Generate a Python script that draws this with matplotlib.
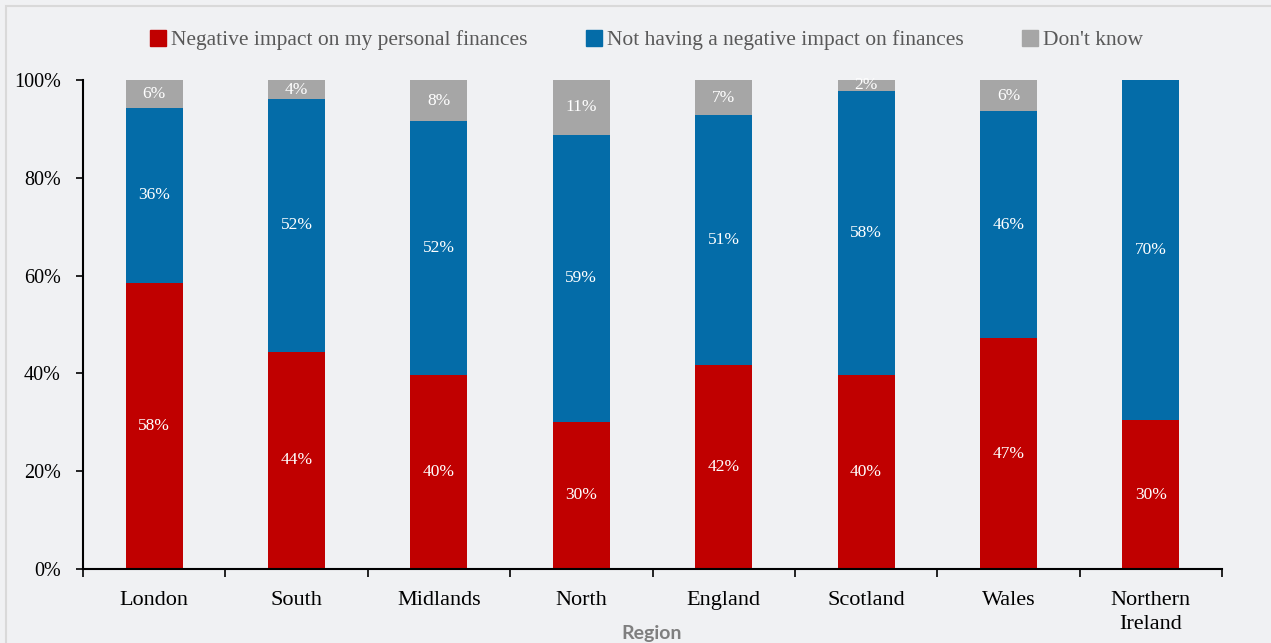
import numpy as np
import matplotlib.pyplot as plt
from matplotlib.patches import Rectangle
from matplotlib.lines import Line2D

regions = ["London", "South", "Midlands", "North", "England", "Scotland", "Wales", "Northern\nIreland"]
negative = [58.5, 44.4, 39.7, 30.1, 41.7, 39.7, 47.2, 30.4]
not_negative = [35.8, 51.7, 51.9, 58.7, 51.1, 58.1, 46.4, 69.6]
dont_know = [5.7, 3.9, 8.4, 11.2, 7.2, 2.2, 6.4, 0.0]

series_names = ["Negative impact on my personal finances",
                "Not having a negative impact on finances",
                "Don't know"]
colors = ["#c00000", "#046ca8", "#a6a6a6"]

bg = "#f0f1f3"
serif = ["Liberation Serif", "DejaVu Serif"]

fig = plt.figure(figsize=(12.71, 6.43), dpi=100, facecolor=bg)
fig.patches.append(Rectangle((6 / 1271, -0.1), 1.2, 1.1 - 6 / 643, transform=fig.transFigure,
                             fill=False, edgecolor="#d9d9d9", linewidth=1.5))
ax = fig.add_axes([83 / 1271, 74 / 643, 1139 / 1271, 489 / 643], facecolor=bg)

x = np.arange(len(regions))
bottom = np.zeros(len(regions))
for vals, col in zip([negative, not_negative, dont_know], colors):
    vals = np.array(vals)
    ax.bar(x, vals, 0.4, bottom=bottom, color=col, zorder=2)
    for xi, b, v in zip(x, bottom, vals):
        if v > 0:
            ax.text(xi, b + v / 2, f"{v:.0f}%", ha="center", va="center",
                    color="white", fontsize=12.5, family=serif, zorder=3)
    bottom += vals

ax.set_xlim(-0.5, len(regions) - 0.5)
ax.set_ylim(0, 100)
ax.set_yticks(range(0, 101, 20))
ax.set_yticklabels([f"{v}%" for v in range(0, 101, 20)], family=serif, fontsize=14.5)
ax.set_xticks(x)
ax.set_xticklabels(regions, family=serif, fontsize=16, linespacing=1.35)
ax.set_xticks(np.arange(-0.5, len(regions), 1), minor=True)
ax.tick_params(axis="x", which="major", length=0, pad=16)
ax.tick_params(axis="x", which="minor", length=6, width=1.2, direction="out")
ax.tick_params(axis="y", length=5, width=1.2, direction="out", pad=11)
for s in ["top", "right"]:
    ax.spines[s].set_visible(False)
for s in ["left", "bottom"]:
    ax.spines[s].set_linewidth(1.5)

# axis title sits just under the two-line tick label
fig.text(652 / 1271, 1 - 633 / 643, "Region", ha="center", va="center",
         family=["Lato", "DejaVu Sans"], fontweight="bold", fontsize=14, color="#7f7f7f")

handles = [Line2D([], [], marker="s", linestyle="none", markersize=11,
                  markerfacecolor=c, markeredgecolor=c) for c in colors]
fig.legend(handles, series_names, loc="center", bbox_to_anchor=(645 / 1271, 1 - 40 / 643),
           ncol=3, frameon=False, prop={"family": serif, "size": 15.5},
           labelcolor="#595959", handletextpad=0.1, columnspacing=2.6, handlelength=1.0)

fig.savefig("out.png", dpi=100, facecolor=bg)
